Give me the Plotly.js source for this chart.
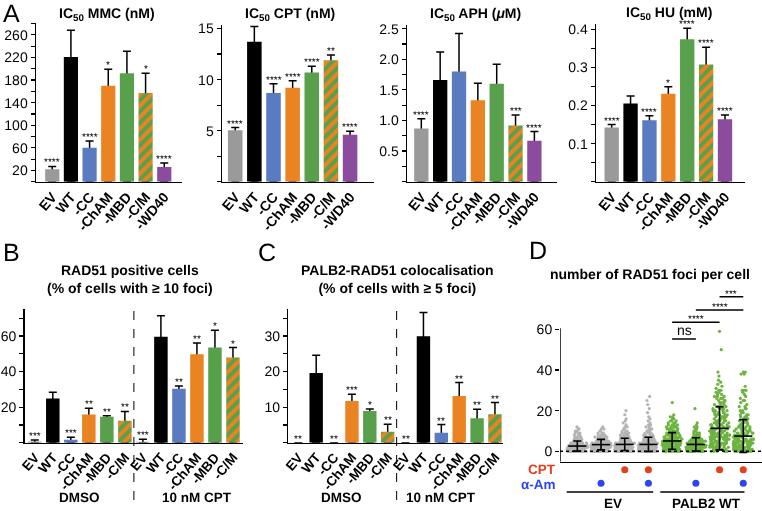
<!DOCTYPE html>
<html><head><meta charset="utf-8">
<script src="https://cdn.plot.ly/plotly-3.0.1.min.js"></script>
<style>html,body{margin:0;padding:0;background:#fff}#chart{width:762px;height:511px;will-change:transform}#chart text{text-rendering:geometricPrecision}</style>
</head><body><div id="chart"></div>
<script>
// ---------- Panel A data ----------
const mutants = ['EV','WT','-CC','-ChAM','-MBD','-C/M','-WD40'];
const mmcVal = [22,221,60,170,192,157,26];
const mmcErr = [5,47,12,29,39,35,7];
const mmcSig = ['****','','****','*','','*','****'];
const cptVal = [5.05,13.7,8.7,9.2,10.7,11.9,4.6];
const cptErr = [0.25,1.5,0.9,0.7,0.6,0.5,0.35];
const cptSig = ['****','','****','****','****','**','****'];
const aphVal = [0.87,1.66,1.80,1.33,1.60,0.92,0.67];
const aphErr = [0.16,0.46,0.62,0.28,0.32,0.17,0.15];
const aphSig = ['****','','','','','***','****'];
const huVal = [0.142,0.205,0.161,0.231,0.374,0.308,0.164];
const huErr = [0.008,0.020,0.012,0.018,0.029,0.045,0.011];
const huSig = ['****','','****','*','****','****','****'];

// ---------- Panels B, C data ----------
const focusLabels = ['EV','WT','-CC','-ChAM','-MBD','-C/M'];
const treatments = ['DMSO','10 nM CPT'];
const rad51Val = [0.7,24.9,1.6,15.9,14.6,12.3, 0.6,59.5,30.3,49.7,53.5,47.9];
const rad51Err = [0.8,3.4,1.4,3.4,0.6,5.3, 1.3,11.9,1.6,6.4,9.7,5.6];
const rad51Sig = ['***','','***','**','**','**','***','','**','**','*','*'];
const colocVal = [0,19.6,0,11.7,8.9,3.1, 0,29.9,2.8,13.1,6.9,8.0];
const colocErr = [0,5.0,0,1.9,0.6,2.1, 0,6.7,2.3,3.8,2.5,3.3];
const colocSig = ['**','','**','***','*','**','**','','**','**','**','**'];

// ---------- Panel D data (number of cells per foci count, index = foci) ----------
const fociEV          = [30,28,25,20,15,10,7,5,4,3,2,2,1];
const fociEV_aAm      = [20,24,25,24,18,14,10,8,5,3,2,2,1];
const fociEV_CPT      = [25,26,24,20,16,12,9,7,5,4,3,2,2,1,1,1,1,0,1,0,1];
const fociEV_CPT_aAm  = [24,25,24,20,16,13,10,8,6,4,3,3,2,2,1,1,1,1,0,1,0,1,0,1,0,1,0,1];
const fociWT          = [12,14,16,16,15,14,12,10,9,8,7,6,5,4,3,3,2,2,1,0,0,0,0,0,1];
const fociWT_aAm      = [18,22,22,20,16,12,10,7,5,4,3,2,2,1,1,0,0,0,0,0,0,1];
const fociWT_CPT      = [6,7,8,9,9,9,9,9,9,8,8,7,7,6,6,6,5,5,5,4,4,4,4,3,3,3,3,3,2,2,2,1,1,1,1,1,0,1,0,1,0,0,0,0,0,0,0,0,0,0,1,0,0,0,0,0,0,0,0,1];
const fociWT_CPT_aAm  = [12,12,12,12,11,10,9,8,7,7,6,5,5,4,4,3,3,3,3,2,2,2,2,1,1,2,1,1,1,1,3,0,1,0,0,0,0,0,2,2];
const fociGroups = [fociEV, fociEV_aAm, fociEV_CPT, fociEV_CPT_aAm, fociWT, fociWT_aAm, fociWT_CPT, fociWT_CPT_aAm];
const fociMean = [2.6,3.3,3.4,3.4,5.1,3.4,11.3,7.5];
const fociSD   = [2.5,2.6,3.0,3.5,4.1,3.3,10.6,8.1];
const cptTreat = [0,0,1,1,0,0,1,1];
const aAmTreat = [0,1,0,1,0,1,0,1];
const cellLines = ['EV','PALB2 WT'];

// ---------- styling ----------
const W = 762, H = 511;
const pxX = (a, b) => [a / W, b / W];
const pxY = (top, bottom) => [1 - bottom / H, 1 - top / H];
const GRAY = '#9a9a9a', BLACK = '#000000', BLUE = '#5a7bbf', ORANGE = '#ea8423', GREEN = '#58a04b', PURPLE = '#8b4c9e';
const colorsA = [GRAY, BLACK, BLUE, ORANGE, GREEN, ORANGE, PURPLE];
const hatchA = [0,0,0,0,0,1,0];
const colorsBC = [GRAY, BLACK, BLUE, ORANGE, GREEN, ORANGE, GRAY, BLACK, BLUE, ORANGE, GREEN, ORANGE];
const hatchBC = [0,0,0,0,0,1, 0,0,0,0,0,1];

const data = [];
const annotations = [];
function barSet(x, vals, errs, sig, colors, hatch, xa, ya, w) {
  const keep = (arr, flag) => arr.filter((_, i) => hatch[i] === flag);
  data.push({type:'bar', x:x, y:vals, width:w, xaxis:xa, yaxis:ya, hoverinfo:'skip',
     marker:{color:'rgba(0,0,0,0)'},
     error_y:{type:'data', symmetric:false, array:errs, arrayminus:vals, color:'#000', thickness:1.5, width:4}});
  data.push({type:'bar', x:keep(x,0), y:keep(vals,0), width:w, xaxis:xa, yaxis:ya, hoverinfo:'skip',
     marker:{color:keep(colors,0), line:{width:0}}});
  data.push({type:'bar', x:keep(x,1), y:keep(vals,1), width:w, xaxis:xa, yaxis:ya, hoverinfo:'skip',
     marker:{color:ORANGE, line:{width:0},
       pattern:{shape:'/', fgcolor:GREEN, bgcolor:ORANGE, size:8, solidity:0.5, fillmode:'replace'}}});
  x.forEach((xi, i) => {
    if (!sig[i]) return;
    annotations.push({text:sig[i], x:xi, y:vals[i] + errs[i], xref:xa, yref:ya, showarrow:false,
      xanchor:'center', yanchor:'bottom', yshift:-3, font:{size:10, color:'#000'}});
  });
}

const idxBC = rad51Val.map((_, i) => i);
barSet(mutants, mmcVal, mmcErr, mmcSig, colorsA, hatchA, 'x', 'y', 0.76);
barSet(mutants, cptVal, cptErr, cptSig, colorsA, hatchA, 'x2', 'y2', 0.76);
barSet(mutants, aphVal, aphErr, aphSig, colorsA, hatchA, 'x3', 'y3', 0.76);
barSet(mutants, huVal, huErr, huSig, colorsA, hatchA, 'x4', 'y4', 0.76);
barSet(idxBC, rad51Val, rad51Err, rad51Sig, colorsBC, hatchBC, 'x5', 'y5', 0.75);
barSet(idxBC, colocVal, colocErr, colocSig, colorsBC, hatchBC, 'x6', 'y6', 0.75);

// Panel D dots
fociGroups.forEach((freq, g) => {
  const ys = [];
  freq.forEach((n, k) => { for (let j = 0; j < n; j++) ys.push(k); });
  data.push({type:'box', x0:g, y:ys, xaxis:'x7', yaxis:'y7', boxpoints:'all', jitter:1, pointpos:0,
    width:0.85, fillcolor:'rgba(0,0,0,0)', line:{width:0, color:'rgba(0,0,0,0)'}, whiskerwidth:0,
    marker:{size:3.2, color: g < 4 ? '#b4b4b4' : '#6cb33f'}, hoverinfo:'skip'});
});
const groupIdx = fociMean.map((_, i) => i);
data.push({type:'scatter', mode:'markers', x:groupIdx, y:fociMean, xaxis:'x7', yaxis:'y7', hoverinfo:'skip',
  marker:{symbol:'line-ew', size:13, color:'#000', line:{width:1.6, color:'#000'}},
  error_y:{type:'data', array:fociSD, color:'#000', thickness:1.6, width:4}, cliponaxis:false});
const cptX = groupIdx.filter(i => cptTreat[i]);
const aAmX = groupIdx.filter(i => aAmTreat[i]);
data.push({type:'scatter', mode:'markers', x:cptX, y:cptX.map(() => 2),
  xaxis:'x7', yaxis:'y8', marker:{size:7, color:'#e4401e'}, hoverinfo:'skip', cliponaxis:false});
data.push({type:'scatter', mode:'markers', x:aAmX, y:aAmX.map(() => 1),
  xaxis:'x7', yaxis:'y8', marker:{size:7, color:'#2f45f0'}, hoverinfo:'skip', cliponaxis:false});

// ---------- axes ----------
function yAx(dom, range, tickvals, minorD, fmt, anchor) {
  const a = {domain:dom, range:range, tickmode:'array', tickvals:tickvals, ticks:'outside', ticklen:4, tickwidth:1.2,
    tickcolor:'#000', showline:true, linewidth:1.5, linecolor:'#000', showgrid:false, zeroline:false,
    tickfont:{size:14}, anchor:anchor, fixedrange:true};
  if (fmt) a.tickformat = fmt;
  if (minorD) a.minor = {dtick:minorD, tick0:0, ticks:'outside', ticklen:4, tickwidth:1.2, tickcolor:'#000', showgrid:false};
  return a;
}
function xAx(dom, range, anchor, extra) {
  return Object.assign({domain:dom, range:range, anchor:anchor, showline:true, linewidth:1.5, linecolor:'#000',
    ticks:'', showgrid:false, zeroline:false, tickangle:-50, tickfont:{size:14, weight:'bold'}, fixedrange:true}, extra || {});
}
const tickTextBC = focusLabels.concat(focusLabels);

const layout = {
  width:W, height:H, margin:{l:0, r:0, t:0, b:0}, showlegend:false,
  paper_bgcolor:'#fff', plot_bgcolor:'rgba(0,0,0,0)', barmode:'overlay', boxmode:'overlay',
  font:{family:'"Liberation Sans", Arial, sans-serif', color:'#000', size:12},
  xaxis:  xAx(pxX(36,182), [-0.87,6.95], 'y', {type:'category'}),
  yaxis:  yAx(pxY(23,181.7), [0,281], [20,60,100,140,180,220,260], 20, null, 'x'),
  xaxis2: xAx(pxX(222,374), [-0.69,7.25], 'y2', {type:'category'}),
  yaxis2: yAx(pxY(25,181.7), [0,15.35], [5,10,15], 2.5, null, 'x2'),
  xaxis3: xAx(pxX(407,557), [-0.76,7.2], 'y3', {type:'category'}),
  yaxis3: yAx(pxY(25,181.7), [0,2.56], [0.5,1,1.5,2,2.5], 0.25, '.1f', 'x3'),
  xaxis4: xAx(pxX(596,745), [-0.83,7.06], 'y4', {type:'category'}),
  yaxis4: yAx(pxY(24,181.7), [0,0.414], [0.1,0.2,0.3,0.4], 0.05, '.1f', 'x4'),
  xaxis5: xAx(pxX(24.7,242.7), [-0.56,11.54], 'y5', {tickmode:'array', tickvals:idxBC, ticktext:tickTextBC, tickfont:{size:13.5, weight:'bold'}}),
  yaxis5: yAx(pxY(309.3,442.7), [0,75], [20,40,60], 10, null, 'x5'),
  xaxis6: xAx(pxX(288.3,503), [-0.56,11.45], 'y6', {tickmode:'array', tickvals:idxBC, ticktext:tickTextBC, tickfont:{size:13.5, weight:'bold'}}),
  yaxis6: yAx(pxY(309.3,442.7), [0,37.5], [10,20,30], 5, null, 'x6'),
  xaxis7: xAx(pxX(560,762), [-0.73,7.79], 'y7', {showticklabels:false}),
  yaxis7: Object.assign(yAx(pxY(284.6,461.7), [-5.1,82], [0,20,40,60], null, null, 'x7'), {showline:false}),
  yaxis8: {domain:pxY(463,490), range:[0.5,2.5], anchor:'x7', visible:false, fixedrange:true},
  annotations: annotations,
  shapes: []
};

const shp = layout.shapes;
function note(text, x, y, opts) {
  annotations.push(Object.assign({text:text, x:x, y:y, xref:'paper', yref:'paper', showarrow:false,
    xanchor:'center', yanchor:'middle', font:{size:12}}, opts || {}));
}
function dnote(text, x, xref, y, size) {
  annotations.push({text:text, x:x, xref:xref, y:y, yref:'paper', showarrow:false,
    xanchor:'center', yanchor:'middle', font:{size:size}});
}
// panel letters
note('A', 1/W, 1-13/H, {xanchor:'left', font:{size:25}});
note('B', 1/W, 1-252/H, {xanchor:'left', font:{size:25}});
note('C', 256/W, 1-252/H, {xanchor:'left', font:{size:25}});
note('D', 527/W, 1-250/H, {xanchor:'left', font:{size:25}});
// titles
note('<b>IC<sub>50</sub> MMC (nM)</b>', 106.7/W, 1-13.5/H, {font:{size:14}});
note('<b>IC<sub>50</sub> CPT (nM)</b>', 290/W, 1-13.5/H, {font:{size:14}});
note('<b>IC<sub>50</sub> APH (<i>μ</i>M)</b>', 475/W, 1-13.5/H, {font:{size:14}});
note('<b>IC<sub>50</sub> HU (mM)</b>', 669/W, 1-13/H, {font:{size:14}});
note('<b>RAD51 positive cells<br>(% of cells with ≥ 10 foci)</b>', 130/W, 1-278.5/H, {font:{size:14}});
note('<b>PALB2-RAD51 colocalisation<br>(% of cells with ≥ 5 foci)</b>', 397.5/W, 1-278.5/H, {font:{size:14}});
note('<b>number of RAD51 foci per cell</b>', 650/W, 1-274/H, {font:{size:14}});
// treatment group labels B, C
dnote('<b>'+treatments[0]+'</b>', 2.5, 'x5', 1-497/H, 13.5);
dnote('<b>'+treatments[1]+'</b>', 9.0, 'x5', 1-497/H, 13.5);
dnote('<b>'+treatments[0]+'</b>', 2.4, 'x6', 1-497/H, 13.5);
dnote('<b>'+treatments[1]+'</b>', 8.0, 'x6', 1-497/H, 13.5);
// dashed separators
['x5','x6'].forEach(xr => shp.push({type:'line', xref:xr, yref:'paper', x0:5.5, x1:5.5,
  y0:1-500/H, y1:1-309/H, line:{color:'#000', width:1, dash:'dash'}}));
// Panel D extras
shp.push({type:'line', xref:'x7', yref:'y7', x0:-0.73, x1:-0.73, y0:-5.1, y1:60.5, line:{color:'#000', width:1.5}});
shp.push({type:'line', xref:'paper', yref:'y7', x0:560/W, x1:1, y0:0, y1:0, line:{color:'#000', width:1.5, dash:'dot'}});
const sigD = [[4,5,55.2,'ns'],[4,6,63.5,'****'],[5,7,69.5,'****'],[6,7,76,'***']];
sigD.forEach(([a, b, h, t]) => {
  shp.push({type:'line', xref:'x7', yref:'y7', x0:a, x1:b, y0:h, y1:h, line:{color:'#000', width:1.5}});
  annotations.push({text:t, x:(a+b)/2, xref:'x7', y:h, yref:'y7', xanchor:'center', yanchor:'bottom', showarrow:false,
    yshift: t === 'ns' ? -1 : -4, font:{size: t === 'ns' ? 14 : 10}});
});
note('<b>CPT</b>', 558/W, 1-469.5/H, {xanchor:'right', font:{size:13.5, color:'#e4401e'}});
note('<b>α-Am</b>', 558/W, 1-484/H, {xanchor:'right', font:{size:13.5, color:'#2f45f0'}});
shp.push({type:'line', xref:'x7', yref:'paper', x0:-0.45, x1:3.2, y0:1-492/H, y1:1-492/H, line:{color:'#000', width:1.5}});
shp.push({type:'line', xref:'x7', yref:'paper', x0:3.5, x1:7.05, y0:1-492/H, y1:1-492/H, line:{color:'#000', width:1.5}});
dnote('<b>'+cellLines[0]+'</b>', 1.5, 'x7', 1-503/H, 13.5);
dnote('<b>'+cellLines[1]+'</b>', 5.45, 'x7', 1-503/H, 13.5);

Plotly.newPlot('chart', data, layout, {displayModeBar:false, staticPlot:true});
</script>
</body></html>
